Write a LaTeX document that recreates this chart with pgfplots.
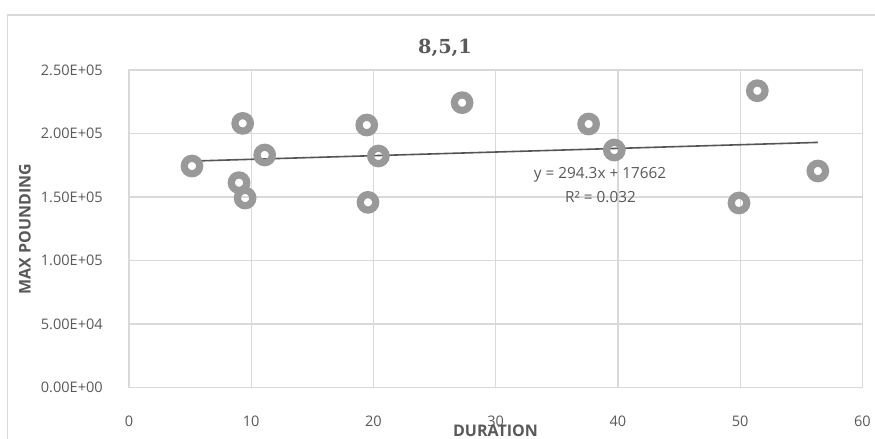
\documentclass[border=0pt]{standalone}
\usepackage{pgfplots}
\pgfplotsset{compat=1.18}
\usepackage{fontspec}
\setmainfont{Open Sans}
\newfontfamily\ticksfont{Open Sans}
\newfontfamily\titlefont{DejaVu Serif}
\definecolor{textgray}{HTML}{595959}
\definecolor{gridgray}{HTML}{D9D9D9}
\definecolor{ringgray}{HTML}{999999}
\definecolor{trendgray}{HTML}{555555}
\begin{document}
\begin{tikzpicture}[x=0.75pt,y=0.75pt]
\useasboundingbox (0,0) rectangle (875,439);
\fill[white] (0,0) rectangle (875,439);
\draw[gridgray, line width=1.2pt] (7.5,-20) rectangle (884,424.2);
\coordinate (axorig) at (129,51.5);
\begin{axis}[
  at={(axorig)}, anchor=origin,
  scale only axis, width=550.1pt, height=238.1pt,
  xmin=0, xmax=60, ymin=0, ymax=250000,
  xtick={0,10,20,30,40,50,60},
  xticklabels={0,10,20,30,40,50,60},
  ytick={0,50000,100000,150000,200000,250000},
  yticklabels={0.00E+00,5.00E+04,1.00E+05,1.50E+05,2.00E+05,2.50E+05},
  scaled ticks=false,
  grid=major,
  major grid style={gridgray, line width=0.9pt},
  axis line style={gridgray, line width=0.9pt},
  major tick length=0pt,
  tick label style={font=\ticksfont\fontsize{10.9}{12}\selectfont, text=textgray, inner sep=0pt},
  x tick label style={anchor=center, yshift=-25.6pt},
  y tick label style={anchor=east, xshift=-19.5pt},
  clip=false,
]
\addplot[only marks, mark=o, mark size=5.8pt,
  mark options={draw=ringgray, line width=5.4pt, fill=white}]
coordinates {
(5.15,174400) (9.3,208000) (9.0,161300) (9.5,149200) (11.1,183100)
(19.45,206700) (20.4,182300) (19.55,145800) (27.25,224300) (37.6,207500)
(39.7,187000) (51.4,233700) (56.35,170500) (49.9,145300)
};
\addplot[trendgray, line width=1.2pt] coordinates {(5.15,178300) (56.35,193000)};
\end{axis}
\node[font=\titlefont\bfseries\fontsize{14.5}{16}\selectfont, text=textgray] at (445,390.7) {8,5,1};
\node[font=\bfseries\fontsize{12}{14}\selectfont, text=textgray, rotate=90] at (25,210) {MAX POUNDING};
\node[font=\bfseries\fontsize{12}{14}\selectfont, text=textgray] at (495.5,8.5) {DURATION};
\node[font=\fontsize{11.5}{13}\selectfont, text=textgray] at (600,264) {y = 294.3x + 17662};
\node[font=\fontsize{11.5}{13}\selectfont, text=textgray] at (600.5,242.3) {R² = 0.032};
\end{tikzpicture}
\end{document}
